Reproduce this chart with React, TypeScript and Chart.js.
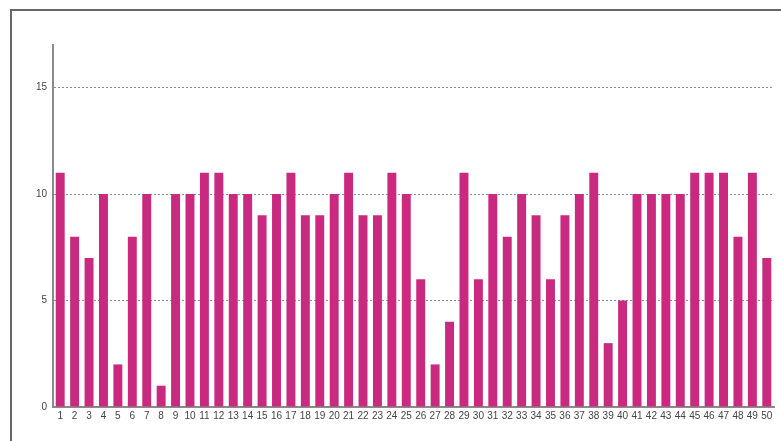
import React, { useEffect, useRef } from "react";
import { Chart, registerables } from "chart.js";

Chart.register(...registerables);

const categories: string[] = Array.from({ length: 50 }, (_, i) => String(i + 1));
const values: number[] = [
  11, 8, 7, 10, 2, 8, 10, 1, 10, 10,
  11, 11, 10, 10, 9, 10, 11, 9, 9, 10,
  11, 9, 9, 11, 10, 6, 2, 4, 11, 6,
  10, 8, 10, 9, 6, 9, 10, 11, 3, 5,
  10, 10, 10, 10, 11, 11, 11, 8, 11, 7,
];
const yTicks: number[] = [0, 5, 10, 15];
const yMax = 17;

export default function App() {
  const ref = useRef<HTMLCanvasElement | null>(null);

  useEffect(() => {
    document.body.style.margin = "0";
    const ctx = ref.current!.getContext("2d")!;
    const chart = new Chart(ctx, {
      type: "bar",
      data: {
        labels: categories,
        datasets: [
          {
            data: values,
            backgroundColor: "#C92A80",
            borderWidth: 0,
            barPercentage: 0.62,
            categoryPercentage: 1,
          },
        ],
      },
      options: {
        responsive: false,
        animation: false,
        events: [],
        layout: { padding: { left: 0, right: 7, top: 45, bottom: 0 } },
        plugins: { legend: { display: false }, tooltip: { enabled: false } },
        scales: {
          x: {
            grid: { display: false, drawTicks: false },
            border: { display: true, color: "#8a8a8a", width: 2 },
            ticks: {
              autoSkip: false,
              maxRotation: 0,
              minRotation: 0,
              padding: 3,
              color: "#444",
              font: { family: "Liberation Sans, Arial, sans-serif", size: 10 },
            },
            afterFit: (s: any) => {
              s.height = 34;
            },
          },
          y: {
            min: 0,
            max: yMax,
            afterBuildTicks: (s: any) => {
              s.ticks = yTicks.map((v) => ({ value: v }));
            },
            grid: {
              color: (c: any) => (c.tick && c.tick.value === 0 ? "rgba(0,0,0,0)" : "#8a8a8a"),
              lineWidth: 1,
              drawTicks: false,
            },
            border: { display: true, color: "#8a8a8a", width: 2, dash: [2, 2] },
            ticks: {
              padding: 6,
              color: "#444",
              font: { family: "Liberation Sans, Arial, sans-serif", size: 10 },
            },
            afterFit: (s: any) => {
              s.width = 53;
            },
          },
        },
      },
    });
    return () => chart.destroy();
  }, []);

  return (
    <div style={{ position: "relative", width: 781, height: 441, overflow: "hidden", background: "#fff" }}>
      <canvas ref={ref} width={781} height={441} style={{ position: "absolute", left: 0, top: 0 }} />
      <div
        style={{
          position: "absolute",
          left: 10,
          top: 9,
          width: 800,
          height: 500,
          borderLeft: "2px solid #666",
          borderTop: "2px solid #666",
          pointerEvents: "none",
        }}
      />
    </div>
  );
}
